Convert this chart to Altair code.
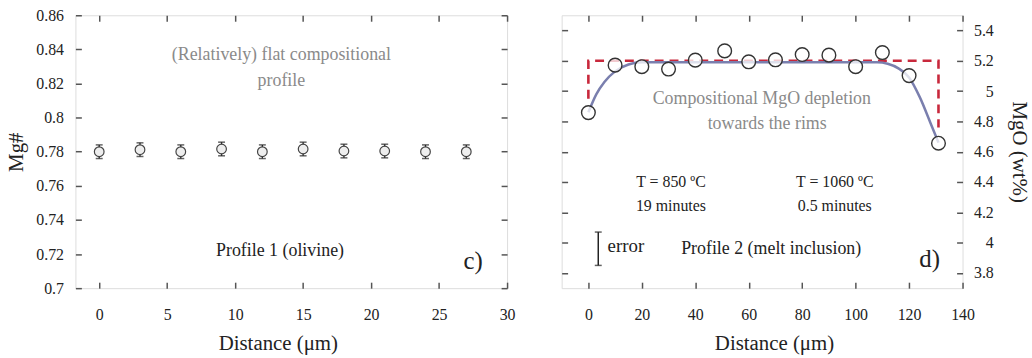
import altair as alt
import pandas as pd

FONT = "Liberation Serif, Times New Roman, DejaVu Serif, serif"
FRAME = "#555555"
INK = "#222222"
GREY = "#8a8a8a"

# ---------------- Panel c (olivine) ----------------
c_dist = [0, 3, 6, 9, 12, 15, 18, 21, 24, 27]
c_mg = [0.780, 0.7812, 0.780, 0.7816, 0.780, 0.7816, 0.7804, 0.7804, 0.780, 0.780]
c_err = [0.004, 0.004, 0.004, 0.004, 0.004, 0.004, 0.004, 0.004, 0.004, 0.004]
c_xticks = [0, 5, 10, 15, 20, 25, 30]
c_yticks = [0.70, 0.72, 0.74, 0.76, 0.78, 0.80, 0.82, 0.84, 0.86]
c_xdom = [-1.75, 30]
c_ydom = [0.70, 0.86]

c_grey_text = ["(Relatively) flat compositional", "profile"]
c_grey_x = [13.4, 13.4]
c_grey_y = [0.8367, 0.8212]
c_black_text = ["Profile 1 (olivine)"]
c_black_x = [13.3]
c_black_y = [0.7215]
c_letter = ["c)"]
c_letter_x = [27.5]
c_letter_y = [0.7157]

# ---------------- Panel d (melt inclusion) ----------------
d_dist = [0, 10, 20, 30, 40, 51, 60, 70, 80, 90, 100, 110, 120, 131]
d_mgo = [4.858, 5.171, 5.161, 5.145, 5.204, 5.265, 5.193, 5.206, 5.241, 5.237, 5.161, 5.254, 5.102, 4.656]
d_step_x = [0, 0, 131, 131]
d_step_y = [4.95, 5.20, 5.20, 4.76]
d_fit_x = [0, 3, 6, 10, 15, 20, 40, 60, 80, 100, 108, 112, 116, 120, 124, 128, 131]
d_fit_y = [4.86, 4.98, 5.06, 5.13, 5.175, 5.19, 5.19, 5.19, 5.19, 5.19, 5.19, 5.18, 5.15, 5.09, 4.96, 4.79, 4.66]
d_xticks = [0, 20, 40, 60, 80, 100, 120, 140]
d_yticks = [3.8, 4.0, 4.2, 4.4, 4.6, 4.8, 5.0, 5.2, 5.4]
d_xdom = [-10, 140]
d_ydom = [3.7, 5.5]

d_grey_text = ["Compositional MgO depletion", "towards the rims"]
d_grey_x = [64.9, 66.9]
d_grey_y = [4.949, 4.780]
d_cond_text = ["T = 850 ºC", "19 minutes", "T = 1060 ºC", "0.5 minutes"]
d_cond_x = [30.9, 30.9, 92.2, 92.2]
d_cond_y = [4.401, 4.242, 4.401, 4.242]
d_label_text = ["Profile 2 (melt inclusion)"]
d_label_x = [68.4]
d_label_y = [3.955]
d_error_text = ["error"]
d_error_tx = [7.2]
d_error_ty = [3.981]
d_errbar_x = [3.7]
d_errbar_lo = [3.85]
d_errbar_hi = [4.07]
d_letter = ["d)"]
d_letter_x = [127.7]
d_letter_y = [3.894]


def axis(**kw):
    base = dict(domain=False, grid=False, tickSize=6, tickWidth=1.5, tickColor=FRAME,
                offset=-6, labelFont=FONT, labelFontSize=16, labelColor=INK,
                titleFont=FONT, titleFontSize=21, titleFontWeight="normal",
                titleColor=INK, labelFlush=False, labelOverlap=False, format="~f")
    base.update(kw)
    return alt.Axis(**base)


def frame_layers(df, xs, ys, xticks, yticks, xtitle, ytitle, yorient, title_x):
    mirror_y = "right" if yorient == "left" else "left"
    if yorient == "left":
        yaxis = axis(values=yticks, orient="left", title=ytitle, labelPadding=12, titlePadding=9)
    else:
        yaxis = axis(values=yticks, orient="right", title=ytitle, labelAlign="right",
                     labelPadding=31, titlePadding=15)
    main = alt.Chart(df).mark_point(opacity=0).encode(
        x=alt.X("x:Q", scale=xs, axis=axis(values=xticks, orient="bottom", title=xtitle,
                                            labelPadding=19, titlePadding=10, titleX=title_x)),
        y=alt.Y("y:Q", scale=ys, axis=yaxis),
    )
    mirror = alt.Chart(df).mark_point(opacity=0).encode(
        x=alt.X("x:Q", scale=xs, axis=axis(values=xticks, orient="top", labels=False, title=None)),
        y=alt.Y("y:Q", scale=ys, axis=axis(values=yticks, orient=mirror_y, labels=False, title=None)),
    )
    return [main, mirror]


def text_layer(xs_, ys_, ts, xs, ys, color, size, align="center"):
    df = pd.DataFrame({"x": xs_, "y": ys_, "t": ts})
    return alt.Chart(df).mark_text(font=FONT, fontSize=size, color=color, align=align,
                                   baseline="middle").encode(
        x=alt.X("x:Q", scale=xs, axis=None),
        y=alt.Y("y:Q", scale=ys, axis=None),
        text="t:N",
    )


# ---------- build panel c ----------
cxs = alt.Scale(domain=c_xdom, nice=False, zero=False)
cys = alt.Scale(domain=c_ydom, nice=False, zero=False)
cdf = pd.DataFrame({"x": c_dist, "y": c_mg,
                    "lo": [m - e for m, e in zip(c_mg, c_err)],
                    "hi": [m + e for m, e in zip(c_mg, c_err)]})

c_rule = alt.Chart(cdf).mark_rule(color=INK, strokeWidth=1.3).encode(
    x=alt.X("x:Q", scale=cxs, axis=None),
    y=alt.Y("lo:Q", scale=cys, axis=None), y2="hi:Q")
c_cap_lo = alt.Chart(cdf).mark_tick(color=INK, orient="horizontal", size=7, thickness=1.5).encode(
    x=alt.X("x:Q", scale=cxs, axis=None), y=alt.Y("lo:Q", scale=cys, axis=None))
c_cap_hi = alt.Chart(cdf).mark_tick(color=INK, orient="horizontal", size=7, thickness=1.5).encode(
    x=alt.X("x:Q", scale=cxs, axis=None), y=alt.Y("hi:Q", scale=cys, axis=None))
c_pts = alt.Chart(cdf).mark_point(shape="circle", filled=True, fill="#eeeeee", stroke="#444444",
                                  strokeWidth=1.2, size=95, opacity=1).encode(
    x=alt.X("x:Q", scale=cxs, axis=None), y=alt.Y("y:Q", scale=cys, axis=None))

panel_c = alt.layer(
    *frame_layers(cdf, cxs, cys, c_xticks, c_yticks, "Distance (μm)", "Mg#", "left", 204),
    c_rule, c_cap_lo, c_cap_hi, c_pts,
    text_layer(c_grey_x, c_grey_y, c_grey_text, cxs, cys, GREY, 18),
    text_layer(c_black_x, c_black_y, c_black_text, cxs, cys, INK, 18),
    text_layer(c_letter_x, c_letter_y, c_letter, cxs, cys, INK, 25),
).resolve_axis(x="independent", y="independent").properties(width=435, height=275)

# ---------- build panel d ----------
dxs = alt.Scale(domain=d_xdom, nice=False, zero=False)
dys = alt.Scale(domain=d_ydom, nice=False, zero=False)
ddf = pd.DataFrame({"x": d_dist, "y": d_mgo})
step_df = pd.DataFrame({"x": d_step_x, "y": d_step_y, "o": list(range(len(d_step_x)))})
fit_df = pd.DataFrame({"x": d_fit_x, "y": d_fit_y})
err_df = pd.DataFrame({"x": d_errbar_x, "lo": d_errbar_lo, "hi": d_errbar_hi})

d_step = alt.Chart(step_df).mark_line(color="#c8283c", strokeWidth=2.6, strokeDash=[9, 6]).encode(
    x=alt.X("x:Q", scale=dxs, axis=None), y=alt.Y("y:Q", scale=dys, axis=None), order="o:Q")
d_fit = alt.Chart(fit_df).mark_line(color="#7a7fae", strokeWidth=2.5, interpolate="monotone").encode(
    x=alt.X("x:Q", scale=dxs, axis=None), y=alt.Y("y:Q", scale=dys, axis=None))
d_pts = alt.Chart(ddf).mark_point(shape="circle", filled=True, fill="white", fillOpacity=0.75,
                                  stroke="#333333", strokeWidth=1.4, size=190, opacity=1).encode(
    x=alt.X("x:Q", scale=dxs, axis=None), y=alt.Y("y:Q", scale=dys, axis=None))
d_err_rule = alt.Chart(err_df).mark_rule(color=INK, strokeWidth=1.5).encode(
    x=alt.X("x:Q", scale=dxs, axis=None), y=alt.Y("lo:Q", scale=dys, axis=None), y2="hi:Q")
d_err_lo = alt.Chart(err_df).mark_tick(color=INK, orient="horizontal", size=7, thickness=1.5).encode(
    x=alt.X("x:Q", scale=dxs, axis=None), y=alt.Y("lo:Q", scale=dys, axis=None))
d_err_hi = alt.Chart(err_df).mark_tick(color=INK, orient="horizontal", size=7, thickness=1.5).encode(
    x=alt.X("x:Q", scale=dxs, axis=None), y=alt.Y("hi:Q", scale=dys, axis=None))

panel_d = alt.layer(
    *frame_layers(ddf, dxs, dys, d_xticks, d_yticks, "Distance (μm)", "MgO (wt%)", "right", 214),
    d_step, d_fit, d_pts, d_err_rule, d_err_lo, d_err_hi,
    text_layer(d_grey_x, d_grey_y, d_grey_text, dxs, dys, GREY, 18),
    text_layer(d_cond_x, d_cond_y, d_cond_text, dxs, dys, INK, 16),
    text_layer(d_label_x, d_label_y, d_label_text, dxs, dys, INK, 18),
    text_layer(d_error_tx, d_error_ty, d_error_text, dxs, dys, INK, 19, align="left"),
    text_layer(d_letter_x, d_letter_y, d_letter, dxs, dys, INK, 25),
).resolve_axis(x="independent", y="independent").properties(width=404, height=275)

chart = alt.hconcat(panel_c, panel_d, spacing=44).properties(
    padding={"left": 5, "top": 5, "right": 2, "bottom": 2}
).configure_view(stroke=FRAME, strokeWidth=1.5).configure(background="white")

chart.save("out.html", embed_options={"renderer": "svg", "actions": False})
